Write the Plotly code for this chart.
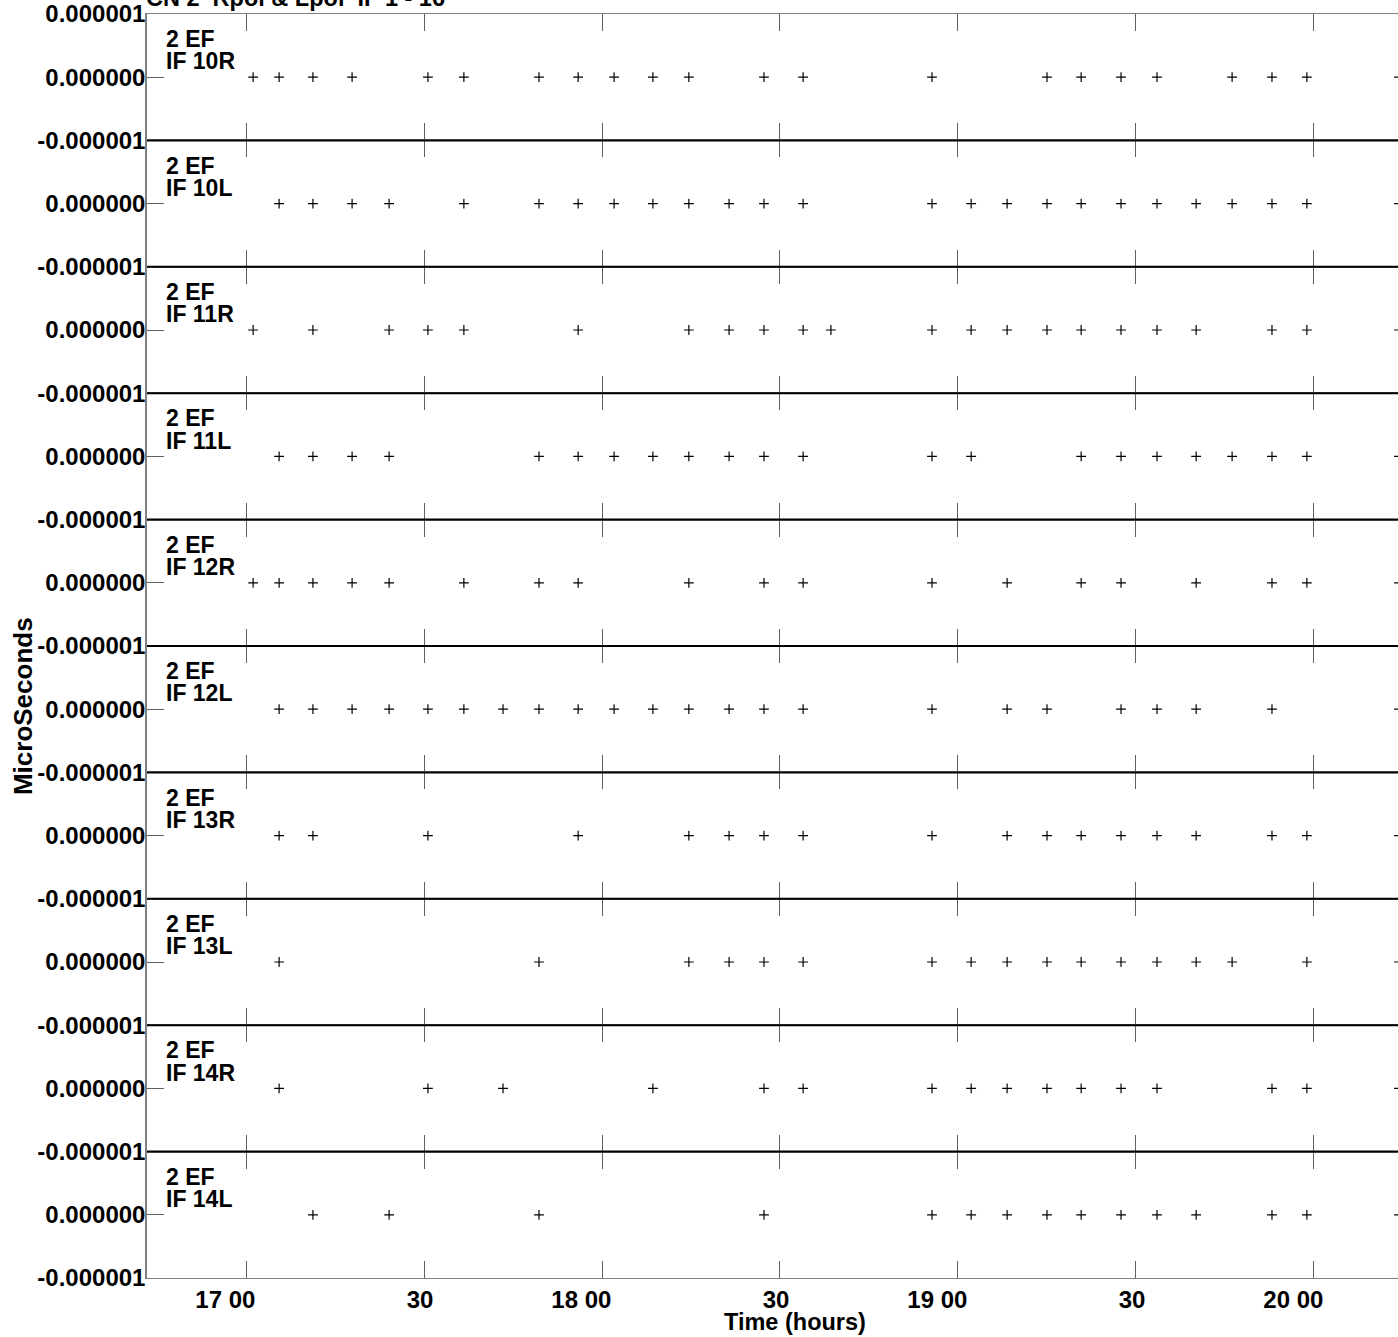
import plotly.graph_objects as go
from plotly.subplots import make_subplots

# ---- data (time in decimal hours, delay in microseconds) ----
panel_labels = ["IF 10R", "IF 10L", "IF 11R", "IF 11L", "IF 12R",
                "IF 12L", "IF 13R", "IF 13L", "IF 14R", "IF 14L"]
baseline_label = "2 EF"
title_text = "CN 2\u00a0\u00a0Rpol & Lpol\u00a0\u00a0IF 1 - 16"

t_10R = [17.020, 17.093, 17.188, 17.298, 17.511, 17.612, 17.823, 17.933, 18.034, 18.143, 18.244,
         18.455, 18.565, 18.927, 19.250, 19.346, 19.458, 19.559, 19.770, 19.882, 19.980, 20.239]
d_10R = [0.0, 0.0, 0.0, 0.0, 0.0, 0.0, 0.0, 0.0, 0.0, 0.0, 0.0,
         0.0, 0.0, 0.0, 0.0, 0.0, 0.0, 0.0, 0.0, 0.0, 0.0, 0.0]

t_10L = [17.093, 17.188, 17.298, 17.402, 17.612, 17.823, 17.933, 18.034, 18.143, 18.244, 18.357,
         18.455, 18.565, 18.927, 19.037, 19.138, 19.250, 19.346, 19.458, 19.559, 19.669, 19.770,
         19.882, 19.980, 20.239]
d_10L = [0.0, 0.0, 0.0, 0.0, 0.0, 0.0, 0.0, 0.0, 0.0, 0.0, 0.0,
         0.0, 0.0, 0.0, 0.0, 0.0, 0.0, 0.0, 0.0, 0.0, 0.0, 0.0,
         0.0, 0.0, 0.0]

t_11R = [17.020, 17.188, 17.402, 17.511, 17.612, 17.933, 18.244, 18.357, 18.455, 18.565, 18.643,
         18.927, 19.037, 19.138, 19.250, 19.346, 19.458, 19.559, 19.669, 19.882, 19.980, 20.239]
d_11R = [0.0, 0.0, 0.0, 0.0, 0.0, 0.0, 0.0, 0.0, 0.0, 0.0, 0.0,
         0.0, 0.0, 0.0, 0.0, 0.0, 0.0, 0.0, 0.0, 0.0, 0.0, 0.0]

t_11L = [17.093, 17.188, 17.298, 17.402, 17.823, 17.933, 18.034, 18.143, 18.244, 18.357, 18.455,
         18.565, 18.927, 19.037, 19.346, 19.458, 19.559, 19.669, 19.770, 19.882, 19.980, 20.239]
d_11L = [0.0, 0.0, 0.0, 0.0, 0.0, 0.0, 0.0, 0.0, 0.0, 0.0, 0.0,
         0.0, 0.0, 0.0, 0.0, 0.0, 0.0, 0.0, 0.0, 0.0, 0.0, 0.0]

t_12R = [17.020, 17.093, 17.188, 17.298, 17.402, 17.612, 17.823, 17.933, 18.244, 18.455, 18.565,
         18.927, 19.138, 19.346, 19.458, 19.669, 19.882, 19.980, 20.239]
d_12R = [0.0, 0.0, 0.0, 0.0, 0.0, 0.0, 0.0, 0.0, 0.0, 0.0, 0.0,
         0.0, 0.0, 0.0, 0.0, 0.0, 0.0, 0.0, 0.0]

t_12L = [17.093, 17.188, 17.298, 17.402, 17.511, 17.612, 17.722, 17.823, 17.933, 18.034, 18.143,
         18.244, 18.357, 18.455, 18.565, 18.927, 19.138, 19.250, 19.458, 19.559, 19.669, 19.882,
         20.239]
d_12L = [0.0, 0.0, 0.0, 0.0, 0.0, 0.0, 0.0, 0.0, 0.0, 0.0, 0.0,
         0.0, 0.0, 0.0, 0.0, 0.0, 0.0, 0.0, 0.0, 0.0, 0.0, 0.0,
         0.0]

t_13R = [17.093, 17.188, 17.511, 17.933, 18.244, 18.357, 18.455, 18.565, 18.927, 19.138, 19.250,
         19.346, 19.458, 19.559, 19.669, 19.882, 19.980, 20.239]
d_13R = [0.0, 0.0, 0.0, 0.0, 0.0, 0.0, 0.0, 0.0, 0.0, 0.0, 0.0,
         0.0, 0.0, 0.0, 0.0, 0.0, 0.0, 0.0]

t_13L = [17.093, 17.823, 18.244, 18.357, 18.455, 18.565, 18.927, 19.037, 19.138, 19.250, 19.346,
         19.458, 19.559, 19.669, 19.770, 19.980, 20.239]
d_13L = [0.0, 0.0, 0.0, 0.0, 0.0, 0.0, 0.0, 0.0, 0.0, 0.0, 0.0,
         0.0, 0.0, 0.0, 0.0, 0.0, 0.0]

t_14R = [17.093, 17.511, 17.722, 18.143, 18.455, 18.565, 18.927, 19.037, 19.138, 19.250, 19.346,
         19.458, 19.559, 19.882, 19.980, 20.239]
d_14R = [0.0, 0.0, 0.0, 0.0, 0.0, 0.0, 0.0, 0.0, 0.0, 0.0, 0.0,
         0.0, 0.0, 0.0, 0.0, 0.0]

t_14L = [17.188, 17.402, 17.823, 18.455, 18.927, 19.037, 19.138, 19.250, 19.346, 19.458, 19.559,
         19.669, 19.882, 19.980, 20.239]
d_14L = [0.0, 0.0, 0.0, 0.0, 0.0, 0.0, 0.0, 0.0, 0.0, 0.0, 0.0,
         0.0, 0.0, 0.0, 0.0]

times = [t_10R, t_10L, t_11R, t_11L, t_12R, t_12L, t_13R, t_13L, t_14R, t_14L]
delays = [d_10R, d_10L, d_11R, d_11L, d_12R, d_12L, d_13R, d_13L, d_14R, d_14L]

x_tickvals = [17.0, 17.5, 18.0, 18.5, 19.0, 19.5, 20.0]
x_ticktext = ["17 00", "30", "18 00", "30", "19 00", "30", "20 00"]
x_range = [16.7219, 20.2360]
y_range = [-0.000001, 0.000001]
y_tickvals_top = [0.000001, 0.0, -0.000001]
y_ticktext_top = ["0.000001", "0.000000", "-0.000001"]
y_tickvals = [0.0, -0.000001]
y_ticktext = ["0.000000", "-0.000001"]

# ---- figure ----
FONT = "Liberation Sans, Arial, sans-serif"
n = len(panel_labels)
fig = make_subplots(rows=n, cols=1, shared_xaxes=True, vertical_spacing=0)

for i in range(n):
    fig.add_trace(go.Scatter(
        x=times[i], y=delays[i], mode="markers",
        marker=dict(symbol="cross-thin", size=7, color="black",
                    line=dict(color="black", width=1.2)),
        showlegend=False, hoverinfo="x+y"), row=i + 1, col=1)

pad = "\u00a0" * 5
tt = [t + pad if " " in t else t for t in x_ticktext]

for i in range(n):
    r = i + 1
    fig.update_xaxes(row=r, col=1, range=x_range, tickvals=x_tickvals, ticktext=tt,
                     ticks="inside", ticklen=17, tickwidth=1, tickcolor="#606060",
                     showline=True, linecolor="#808080", linewidth=1, mirror="ticks",
                     showgrid=False, zeroline=False,
                     showticklabels=(r == n), ticklabelshift=-4,
                     tickfont=dict(family=FONT, size=24, color="black", weight="bold"))
    fig.update_yaxes(row=r, col=1, range=y_range,
                     tickvals=y_tickvals_top if r == 1 else y_tickvals,
                     ticktext=y_ticktext_top if r == 1 else y_ticktext,
                     ticks="inside", ticklen=17, tickwidth=1, tickcolor="#606060",
                     showline=True, linecolor="#808080", linewidth=1.5, mirror=False,
                     showgrid=False, zeroline=False, ticklabelstandoff=-5,
                     tickfont=dict(family=FONT, size=24, color="black", weight="bold"))

shapes = []
annotations = []
for i in range(n):
    yname = "y" if i == 0 else f"y{i + 1}"
    if i < n - 1:
        shapes.append(dict(type="line", xref="paper", yref=f"{yname} domain",
                           x0=0, x1=1, y0=0, y1=0, line=dict(color="black", width=2)))
    annotations.append(dict(text=baseline_label, xref="paper", yref=f"{yname} domain",
                            x=0.0136, y=0.80, xanchor="left", yanchor="middle",
                            showarrow=False,
                            font=dict(family=FONT, size=23, color="black", weight="bold")))
    annotations.append(dict(text=panel_labels[i], xref="paper", yref=f"{yname} domain",
                            x=0.0136, y=0.625, xanchor="left", yanchor="middle",
                            showarrow=False,
                            font=dict(family=FONT, size=23, color="black", weight="bold")))

annotations.append(dict(text="MicroSeconds", xref="paper", yref="paper",
                        x=-0.0991, y=0.4525, xanchor="center", yanchor="middle",
                        textangle=-90, showarrow=False,
                        font=dict(family=FONT, size=26, color="black", weight="bold")))
annotations.append(dict(text="Time (hours)", xref="paper", yref="paper",
                        x=0.518, y=-0.0348, xanchor="center", yanchor="middle",
                        showarrow=False,
                        font=dict(family=FONT, size=23.5, color="black", weight="bold")))
annotations.append(dict(text=title_text, xref="paper", yref="paper",
                        x=0.0, y=1.0, xanchor="left", yanchor="bottom", yshift=1, xshift=-3,
                        showarrow=False,
                        font=dict(family=FONT, size=23.5, color="black", weight="bold")))

fig.update_layout(width=1398, height=1337,
                  margin=dict(l=147, r=0, t=14, b=59),
                  paper_bgcolor="white", plot_bgcolor="white",
                  shapes=shapes, annotations=annotations)

fig.write_html("out.html", config={"displayModeBar": False},
               post_script="document.body.style.margin='0px';document.body.style.overflow='hidden';")
